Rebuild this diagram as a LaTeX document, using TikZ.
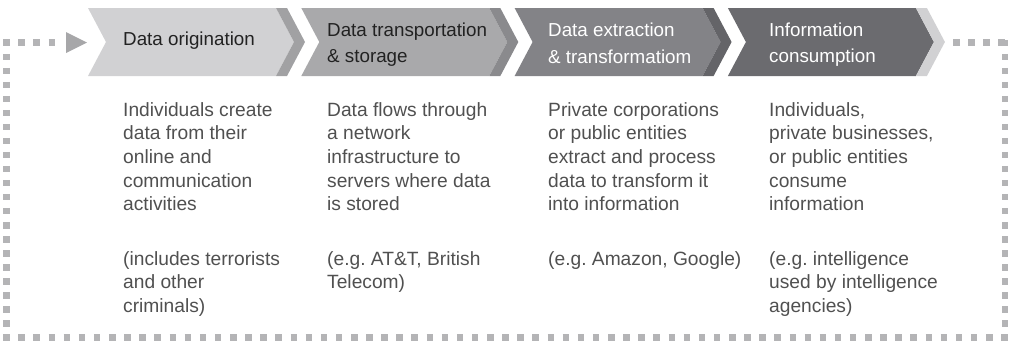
\documentclass[tikz,border=0pt]{standalone}
\usepackage{fontspec}
\setmainfont{Liberation Sans}
\usetikzlibrary{calc}
\frenchspacing

\definecolor{chevA}{HTML}{D1D1D3}
\definecolor{stripeA}{HTML}{A1A1A3}
\definecolor{chevB}{HTML}{A9A9AB}
\definecolor{stripeB}{HTML}{8A8A8D}
\definecolor{chevC}{HTML}{838387}
\definecolor{stripeC}{HTML}{646468}
\definecolor{chevD}{HTML}{6B6B6F}
\definecolor{stripeD}{HTML}{D1D1D3}
\definecolor{loopgray}{HTML}{B4B4B6}
\definecolor{arrowgray}{HTML}{A7A7A9}
\definecolor{darktext}{HTML}{222222}
\definecolor{bodytext}{HTML}{505050}

\tikzset{
  head/.style={font=\fontsize{18.8}{26.5}\selectfont, align=left, inner sep=0pt, anchor=north west},
  body/.style={font=\fontsize{19.2}{23.7}\selectfont, text=bodytext, align=left, inner sep=0pt, anchor=north west},
  loopdash/.style={draw=loopgray, line width=6.5pt, line cap=butt},
}

\begin{document}
\begin{tikzpicture}[x=1pt,y=-1pt]
\useasboundingbox (0,0) rectangle (1011,341);

% process chevrons: body plus a narrow band along the pointed edge
\foreach \i/\bc/\sc in {0/chevA/stripeA, 1/chevB/stripeB, 2/chevC/stripeC, 3/chevD/stripeD} {
  \pgfmathsetmacro\L{88+213.3*\i}
  \fill[\bc] (\L,8) -- ++(188,0) -- ++(18,34) -- ++(-18,34) -- ++(-188,0) -- ++(18,-34) -- cycle;
  \fill[\sc] (\L+188,8) -- ++(11,0) -- ++(18,34) -- ++(-18,34) -- ++(-11,0) -- ++(18,-34) -- cycle;
}

% stage titles
\node[head, text=darktext] (h1) at (123,31.5) {Data origination};
\node[head, text=darktext] (h2) at (327,22.5) {Data transportation\\\& storage};
\node[head, text=white] (h3) at (548,23) {Data extraction\\\& transformatiom};
\node[head, text=white] (h4) at (769,22.5) {Information\\consumption};

% stage descriptions
\node[body] (d1) at (123,102) {Individuals create\\data from their\\online and\\communication\\activities};
\node[body] (d2) at (327,102) {Data flows through\\a network\\infrastructure to\\servers where data\\is stored};
\node[body] (d3) at (548,102) {Private corporations\\or public entities\\extract and process\\data to transform it\\into information};
\node[body] (d4) at (769,102) {Individuals,\\private businesses,\\or public entities\\consume\\information};

\node[body] (e1) at (123,251) {(includes terrorists\\and other\\criminals)};
\node[body] (e2) at (327,251) {(e.g. AT\&T, British\\Telecom)};
\node[body] (e3) at (548,251) {(e.g. Amazon, Google)};
\node[body] (e4) at (769,251) {(e.g. intelligence\\used by intelligence\\agencies)};

% feedback loop: dotted return path from the last stage back to the first
\coordinate (outStart) at (953,42.5);
\coordinate (cornerTR) at (1008.25,42.5);
\coordinate (rightTop) at (1005,39.75);
\coordinate (rightBot) at (1005,340.75);
\coordinate (botRight) at (1008.25,337.5);
\coordinate (botLeft) at (3.25,337.5);
\coordinate (leftBot) at (6.5,340.75);
\coordinate (leftTop) at (6.5,39.75);
\coordinate (inStart) at (3,42.5);
\coordinate (inEnd) at (55,42.5);

\draw[loopdash, dash pattern=on 6.5pt off 8.5pt] (outStart) -- (cornerTR);
\draw[loopdash, dash pattern=on 6.5pt off 7.52pt] (rightTop) -- (rightBot);
\draw[loopdash, dash pattern=on 6.5pt off 8.62pt] (botLeft) -- (botRight);
\draw[loopdash, dash pattern=on 6.5pt off 7.52pt] (leftTop) -- (leftBot);
\draw[loopdash, dash pattern=on 6.5pt off 8.67pt] (inStart) -- (inEnd);

% arrowhead entering the first stage
\fill[arrowgray] (66,32) -- (87,42.5) -- (66,53) -- cycle;
\end{tikzpicture}
\end{document}
